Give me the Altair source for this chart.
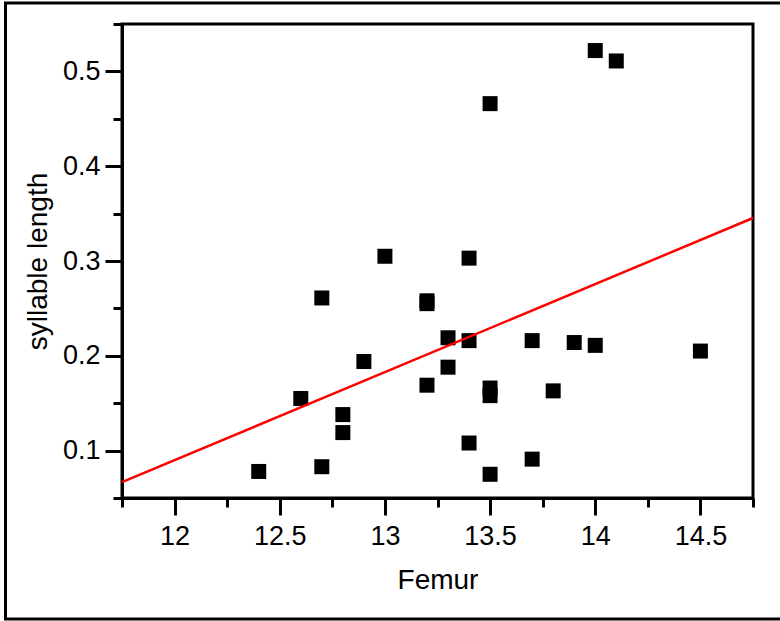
import altair as alt
import pandas as pd

# Data
femur = [14.0, 14.1, 13.5, 13.0, 13.4, 12.7, 13.2, 13.2, 13.3, 13.4, 13.7, 13.9, 14.0, 14.5,
         12.9, 13.3, 13.2, 13.5, 13.5, 13.8, 12.6, 12.8, 12.8, 13.4, 13.7, 12.4, 12.7, 13.5]
syllable_length = [0.522, 0.511, 0.466, 0.305, 0.303, 0.261, 0.258, 0.255, 0.219, 0.216, 0.216,
                   0.214, 0.211, 0.205, 0.194, 0.188, 0.169, 0.166, 0.158, 0.163, 0.155, 0.138,
                   0.119, 0.108, 0.091, 0.078, 0.083, 0.075]

x_domain = [11.75, 14.75]
y_domain = [0.05, 0.55]
x_tick_values = [11.75, 12.0, 12.25, 12.5, 12.75, 13.0, 13.25, 13.5, 13.75, 14.0, 14.25, 14.5, 14.75]
y_tick_values = [0.05, 0.1, 0.15, 0.2, 0.25, 0.3, 0.35, 0.4, 0.45, 0.5, 0.55]

df = pd.DataFrame({"femur": femur, "syll": syllable_length})

FONT = "Liberation Sans"
x_major = "abs(datum.value*2 - round(datum.value*2)) < 0.001"
y_major = "abs(datum.value*10 - round(datum.value*10)) < 0.001"

x_enc = alt.X(
    "femur:Q",
    scale=alt.Scale(domain=x_domain, nice=False, zero=False),
    axis=alt.Axis(
        values=x_tick_values,
        format="~g",
        title="Femur",
        labelExpr=f"({x_major}) ? datum.label : ''",
        tickSize={"condition": {"test": x_major, "value": 17}, "value": 9},
        labelPadding=8,
        labelBaseline="top",
        titleY=90,
        titleBaseline="alphabetic",
    ),
)
y_enc = alt.Y(
    "syll:Q",
    scale=alt.Scale(domain=y_domain, nice=False, zero=False),
    axis=alt.Axis(
        values=y_tick_values,
        format="~g",
        title="syllable length",
        labelExpr=f"({y_major}) ? datum.label : ''",
        tickSize={"condition": {"test": y_major, "value": 17}, "value": 9},
        labelPadding=5,
        labelBaseline="middle",
        titleX=-76,
        titleBaseline="alphabetic",
    ),
)

base = alt.Chart(df)
points = base.mark_point(shape="square", filled=True, size=225, color="black", opacity=1).encode(
    x=x_enc, y=y_enc
)
fit = base.transform_regression("femur", "syll", extent=x_domain).mark_line(
    color="#ff0000", strokeWidth=2.5
).encode(x="femur:Q", y="syll:Q")

frame = alt.Chart(pd.DataFrame({"k": [0]})).mark_rect(
    fillOpacity=0, stroke="black", strokeWidth=3, clip=False
).encode(
    x=alt.value(-116.5), x2=alt.value(700), y=alt.value(-21), y2=alt.value(595)
)

chart = alt.layer(points, fit, frame).properties(
    width=631,
    height=474,
    autosize=alt.AutoSizeParams(type="none"),
    padding={"left": 122, "top": 24, "right": 27, "bottom": 123},
    background="white",
).configure_view(
    stroke="black", strokeWidth=3
).configure_axis(
    grid=False,
    domainColor="black",
    domainWidth=3,
    tickColor="black",
    tickWidth=3,
    labelColor="black",
    titleColor="black",
    labelFont=FONT,
    titleFont=FONT,
    labelFontSize=27,
    titleFontSize=28,
    titleFontWeight="normal",
)

chart.save("out.html", embed_options={"renderer": "svg", "actions": False})
